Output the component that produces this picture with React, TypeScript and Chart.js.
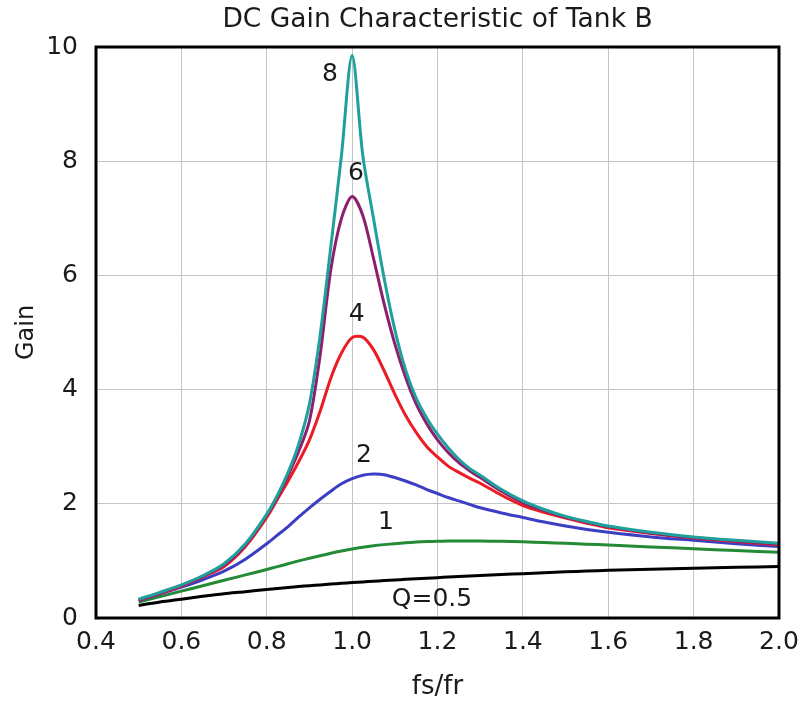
import React, { useEffect, useRef } from "react";
import { Chart, registerables } from "chart.js";

Chart.register(...registerables);

const chartTitle = "DC Gain Characteristic of Tank B";
const xTitle = "fs/fr";
const yTitle = "Gain";

const fsFr = [0.5, 0.55, 0.6, 0.65, 0.7, 0.75, 0.8, 0.825, 0.85, 0.875, 0.9, 0.925, 0.95, 0.975, 1.0, 1.025, 1.05, 1.075, 1.1, 1.125, 1.15, 1.175, 1.2, 1.225, 1.25, 1.275, 1.3, 1.35, 1.4, 1.45, 1.5, 1.55, 1.6, 1.7, 1.8, 1.9, 2.0];

const gainQ8 = [0.33, 0.45, 0.58, 0.74, 0.95, 1.3, 1.82, 2.15, 2.55, 3.05, 3.75, 4.95, 6.5, 8.1, 9.85, 8.1, 7.0, 5.95, 5.05, 4.35, 3.85, 3.5, 3.22, 2.98, 2.78, 2.62, 2.5, 2.25, 2.05, 1.9, 1.78, 1.69, 1.61, 1.5, 1.42, 1.36, 1.31];
const gainQ6 = [0.32, 0.44, 0.57, 0.73, 0.93, 1.28, 1.8, 2.12, 2.5, 2.92, 3.45, 4.6, 6.1, 7.0, 7.38, 7.05, 6.3, 5.5, 4.8, 4.22, 3.75, 3.4, 3.12, 2.9, 2.72, 2.58, 2.46, 2.22, 2.02, 1.88, 1.77, 1.68, 1.6, 1.49, 1.41, 1.35, 1.29];
const gainQ4 = [0.31, 0.43, 0.56, 0.72, 0.9, 1.25, 1.76, 2.08, 2.4, 2.74, 3.12, 3.62, 4.2, 4.64, 4.91, 4.92, 4.7, 4.33, 3.92, 3.55, 3.25, 3.0, 2.82, 2.66, 2.55, 2.45, 2.36, 2.15, 1.97, 1.85, 1.75, 1.66, 1.58, 1.48, 1.4, 1.34, 1.28];
const gainQ2 = [0.3, 0.42, 0.54, 0.67, 0.82, 1.03, 1.3, 1.45, 1.6, 1.77, 1.93, 2.08, 2.22, 2.35, 2.44, 2.5, 2.52, 2.51, 2.46, 2.4, 2.33, 2.25, 2.18, 2.11, 2.05, 1.99, 1.93, 1.84, 1.76, 1.68, 1.61, 1.55, 1.5, 1.42, 1.36, 1.3, 1.25];
const gainQ1 = [0.28, 0.375, 0.47, 0.565, 0.66, 0.755, 0.85, 0.9, 0.95, 1.0, 1.045, 1.09, 1.135, 1.175, 1.21, 1.24, 1.265, 1.285, 1.302, 1.317, 1.329, 1.338, 1.344, 1.348, 1.35, 1.35, 1.349, 1.343, 1.334, 1.322, 1.308, 1.293, 1.278, 1.245, 1.212, 1.18, 1.15];
const gainQ05 = [0.22, 0.28, 0.33, 0.38, 0.425, 0.46, 0.5, 0.518, 0.535, 0.551, 0.566, 0.58, 0.594, 0.607, 0.62, 0.632, 0.644, 0.655, 0.666, 0.677, 0.687, 0.697, 0.707, 0.716, 0.725, 0.734, 0.743, 0.76, 0.777, 0.793, 0.808, 0.822, 0.835, 0.855, 0.872, 0.887, 0.9];

const seriesNames = ["Q=8", "Q=6", "Q=4", "Q=2", "Q=1", "Q=0.5"];
const seriesValues = [gainQ8, gainQ6, gainQ4, gainQ2, gainQ1, gainQ05];
const seriesColors = ["#20a09c", "#8c1f6e", "#ec1c24", "#3c3fc4", "#238a35", "#000000"];

const curveLabelText = ["8", "6", "4", "2", "1", "Q=0.5"];
const curveLabelX = [0.948, 1.009, 1.011, 1.028, 1.079, 1.187];
const curveLabelY = [9.51, 7.79, 5.31, 2.85, 1.68, 0.33];

const FONT = '"DejaVu Sans", Verdana, sans-serif';

const overlayPlugin = {
  id: "overlay",
  afterDraw(chart: any) {
    const { ctx, chartArea, scales } = chart;
    const xs = scales.x;
    const ys = scales.y;
    ctx.save();
    ctx.strokeStyle = "#000";
    ctx.lineWidth = 3;
    ctx.strokeRect(chartArea.left, chartArea.top, chartArea.right - chartArea.left, chartArea.bottom - chartArea.top);
    ctx.fillStyle = "#1a1a1a";
    ctx.font = `25px ${FONT}`;
    ctx.textAlign = "center";
    ctx.textBaseline = "middle";
    curveLabelText.forEach((t, i) => {
      ctx.fillText(t, xs.getPixelForValue(curveLabelX[i]), ys.getPixelForValue(curveLabelY[i]));
    });
    ctx.font = `26.5px ${FONT}`;
    ctx.fillText(chartTitle, (chartArea.left + chartArea.right) / 2, 20);
    ctx.restore();
  },
};

export default function App() {
  const ref = useRef<HTMLCanvasElement | null>(null);
  useEffect(() => {
    if (!ref.current) return;
    const chart = new Chart(ref.current, {
      type: "line",
      data: {
        datasets: seriesNames.map((name, k) => ({
          label: name,
          data: fsFr.map((x, i) => ({ x, y: seriesValues[k][i] })),
          borderColor: seriesColors[k],
          backgroundColor: seriesColors[k],
          borderWidth: 3,
          pointRadius: 0,
          fill: false,
          tension: 0.3,
        })),
      },
      options: {
        responsive: false,
        animation: false,
        layout: { padding: { top: 47, right: 25, left: 0, bottom: 0 } },
        plugins: {
          legend: { display: false },
          title: { display: false },
          tooltip: { enabled: false },
        },
        scales: {
          x: {
            type: "linear",
            min: 0.4,
            max: 2.0,
            afterFit: (s: any) => {
              s.height = 85;
              s.paddingLeft = 0;
              s.paddingRight = 0;
            },
            ticks: {
              stepSize: 0.2,
              padding: 9,
              color: "#1a1a1a",
              font: { family: FONT, size: 25 },
              callback: (v: any) => Number(v).toFixed(1),
            },
            grid: { color: "#c4c4c4", lineWidth: 1, drawTicks: false },
            border: { display: false },
            title: {
              display: true,
              text: xTitle,
              color: "#1a1a1a",
              font: { family: FONT, size: 26 },
              padding: { top: 0, bottom: 0 },
            },
          },
          y: {
            type: "linear",
            min: 0,
            max: 10,
            afterFit: (s: any) => {
              s.width = 96;
              s.paddingTop = 0;
              s.paddingBottom = 0;
            },
            ticks: {
              stepSize: 2,
              padding: 18,
              color: "#1a1a1a",
              font: { family: FONT, size: 25 },
            },
            grid: { color: "#c4c4c4", lineWidth: 1, drawTicks: false },
            border: { display: false },
            title: {
              display: true,
              text: yTitle,
              color: "#1a1a1a",
              font: { family: FONT, size: 24 },
              padding: { top: 12, bottom: 0 },
            },
          },
        },
      },
      plugins: [overlayPlugin],
    });
    return () => chart.destroy();
  }, []);
  return (
    <div style={{ position: "absolute", left: 0, top: 0, width: 804, height: 703, background: "#fff" }}>
      <canvas ref={ref} width={804} height={703} style={{ display: "block" }} />
    </div>
  );
}
